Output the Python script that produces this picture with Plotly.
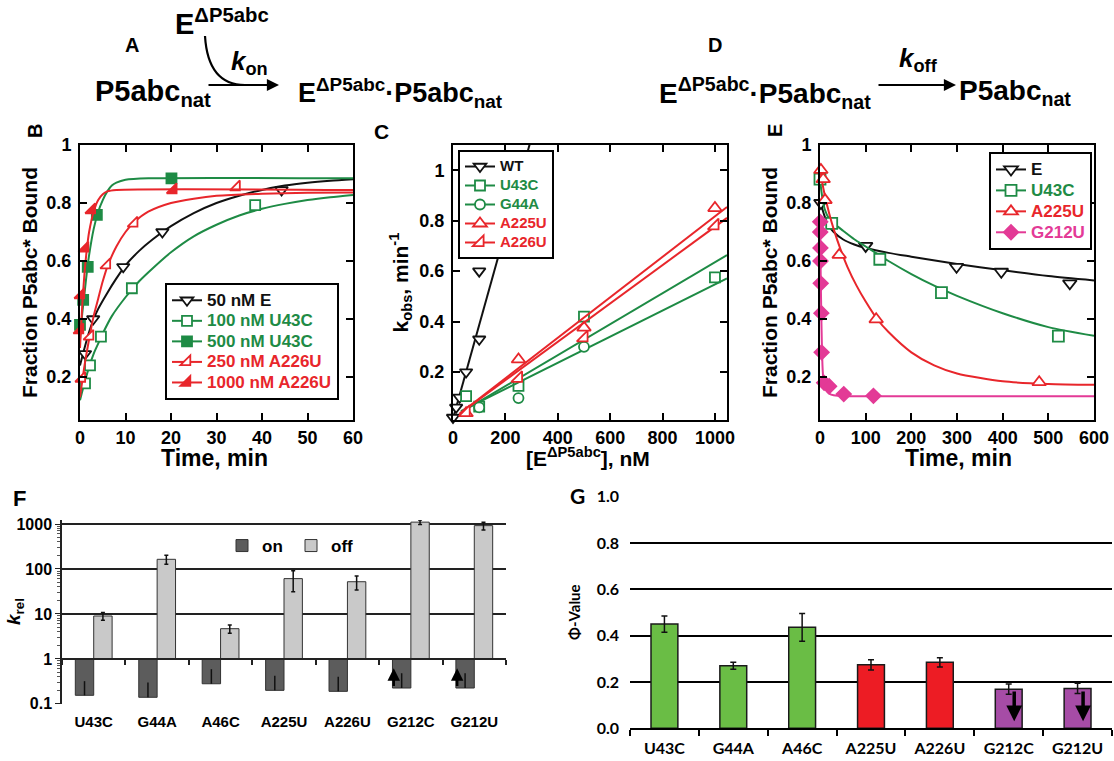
import math
import plotly.graph_objects as go

W, H = 1114, 761
def px(x): return x / W
def py(y): return 1 - y / H

BLACK = '#111111'
GREEN = '#1e8b45'
RED = '#e8262b'
PINK = '#e33a96'
FONT = 'Liberation Sans, Arial, sans-serif'
GFONT = 'Lato, Liberation Sans, sans-serif'

# ---------------- Panel B data ----------------
b_E_t = [1.1, 2.9, 9.5, 18.1, 44.3]
b_E_v = [0.28, 0.40, 0.58, 0.70, 0.845]
b_E_fit_t = [0, 1, 2, 3, 4, 6, 8, 10, 13, 16, 20, 25, 30, 35, 40, 45, 50, 55, 60]
b_E_fit_v = [0.24, 0.30, 0.355, 0.40, 0.435, 0.49, 0.54, 0.585, 0.635, 0.675, 0.72, 0.765, 0.80, 0.825, 0.845, 0.86, 0.87, 0.877, 0.882]

b_U100_t = [1.1, 2.2, 4.6, 11.4, 38.5]
b_U100_v = [0.178, 0.24, 0.339, 0.506, 0.793]
b_U100_fit_t = [0, 1, 2, 3, 4, 5, 7, 10, 13, 16, 20, 25, 30, 35, 40, 45, 50, 55, 60]
b_U100_fit_v = [0.12, 0.18, 0.235, 0.28, 0.315, 0.35, 0.41, 0.475, 0.53, 0.575, 0.63, 0.685, 0.725, 0.757, 0.78, 0.797, 0.81, 0.82, 0.828]

b_U500_t = [0.0, 0.7, 1.7, 3.7, 20.1]
b_U500_v = [0.38, 0.466, 0.58, 0.759, 0.885]
b_U500_fit_t = [0, 0.5, 1, 1.5, 2, 3, 4, 5, 6, 7, 8, 10, 15, 60]
b_U500_fit_v = [0.33, 0.42, 0.49, 0.56, 0.62, 0.71, 0.77, 0.81, 0.84, 0.86, 0.87, 0.88, 0.885, 0.885]

b_A250_t = [0.4, 2.2, 5.9, 11.9, 34.4]
b_A250_v = [0.195, 0.34, 0.586, 0.73, 0.855]
b_A250_fit_t = [0, 1, 2, 3, 4, 5, 6, 8, 10, 12, 15, 20, 25, 30, 40, 50, 60]
b_A250_fit_v = [0.13, 0.24, 0.33, 0.41, 0.47, 0.53, 0.58, 0.65, 0.70, 0.735, 0.77, 0.80, 0.815, 0.825, 0.832, 0.835, 0.836]

b_A1000_t = [0.0, 0.2, 1.1, 2.6, 20.5]
b_A1000_v = [0.362, 0.483, 0.644, 0.776, 0.845]
b_A1000_fit_t = [0, 0.5, 1, 1.5, 2, 3, 4, 5, 6, 8, 60]
b_A1000_fit_v = [0.30, 0.45, 0.56, 0.64, 0.70, 0.77, 0.81, 0.83, 0.84, 0.845, 0.845]

# ---------------- Panel C data ----------------
c_WT_x = [0, 12, 25, 50, 100, 100]
c_WT_y = [0.02, 0.06, 0.10, 0.20, 0.33, 0.60]
c_WT_fit_x = [0, 300]
c_WT_fit_y = [0.015, 1.13]
c_U43C_x = [50, 100, 250, 500, 1000]
c_U43C_y = [0.105, 0.063, 0.145, 0.42, 0.575]
c_U43C_fit_x = [30, 1046]
c_U43C_fit_y = [0.04, 0.664]
c_G44A_x = [100, 250, 500]
c_G44A_y = [0.06, 0.097, 0.30]
c_G44A_fit_x = [30, 1046]
c_G44A_fit_y = [0.045, 0.571]
c_A225U_x = [50, 250, 500, 1000]
c_A225U_y = [0.037, 0.25, 0.376, 0.85]
c_A225U_fit_x = [25, 1046]
c_A225U_fit_y = [0.035, 0.854]
c_A226U_x = [50, 250, 500, 1000]
c_A226U_y = [0.04, 0.175, 0.336, 0.78]
c_A226U_fit_x = [25, 1046]
c_A226U_fit_y = [0.035, 0.811]

# ---------------- Panel E data ----------------
e_E_t = [2, 100, 299, 397, 547]
e_E_v = [0.80, 0.652, 0.58, 0.563, 0.523]
e_E_fit_t = [0, 5, 10, 20, 30, 50, 75, 100, 150, 200, 300, 400, 500, 600]
e_E_fit_v = [0.81, 0.78, 0.755, 0.72, 0.70, 0.675, 0.657, 0.645, 0.628, 0.615, 0.59, 0.568, 0.548, 0.533]
e_U43C_t = [0, 25.6, 131, 266, 522]
e_U43C_v = [0.882, 0.73, 0.606, 0.491, 0.341]
e_U43C_fit_t = [0, 5, 10, 20, 30, 50, 75, 100, 150, 200, 250, 300, 400, 500, 600]
e_U43C_fit_v = [0.88, 0.82, 0.78, 0.745, 0.73, 0.705, 0.675, 0.65, 0.60, 0.555, 0.515, 0.48, 0.42, 0.372, 0.342]
e_A225U_t = [2, 7, 11, 42, 123, 480]
e_A225U_v = [0.914, 0.882, 0.81, 0.621, 0.399, 0.182]
e_A225U_fit_t = [0, 5, 10, 20, 30, 45, 60, 80, 100, 125, 150, 200, 250, 300, 400, 500, 600]
e_A225U_fit_v = [0.92, 0.87, 0.83, 0.765, 0.71, 0.64, 0.58, 0.515, 0.46, 0.40, 0.355, 0.285, 0.24, 0.212, 0.185, 0.176, 0.173]
e_G212U_t = [0.5, 0.5, 1, 1, 1.5, 3, 3.5, 9, 20, 52, 117]
e_G212U_v = [0.735, 0.70, 0.645, 0.60, 0.523, 0.42, 0.285, 0.18, 0.168, 0.141, 0.135]
e_G212U_fit_t = [0, 1, 2, 3, 4, 5, 6, 8, 10, 15, 20, 30, 40, 60, 600]
e_G212U_fit_v = [0.74, 0.62, 0.50, 0.40, 0.32, 0.26, 0.22, 0.18, 0.165, 0.15, 0.143, 0.137, 0.135, 0.134, 0.134]

# ---------------- Panels F, G data ----------------
mutants = ["U43C", "G44A", "A46C", "A225U", "A226U", "G212C", "G212U"]
kon_rel = [0.155, 0.14, 0.28, 0.20, 0.19, 0.225, 0.225]
kon_err = [0.165, 0.16, 0.31, 0.22, 0.21, 0.255, 0.255]
koff_rel = [9.0, 164, 4.7, 61, 52, 1100, 920]
koff_err = [1.8, 37, 1.0, 30, 18, 130, 180]
phi = [0.45, 0.27, 0.436, 0.274, 0.285, 0.169, 0.172]
phi_err = [0.035, 0.015, 0.06, 0.022, 0.02, 0.022, 0.022]
phi_colors = ['#6abd45', '#6abd45', '#6abd45', '#ed1c24', '#ed1c24', '#a64ca6', '#a64ca6']

fig = go.Figure()

def mk(symbol, line_color, fill, size=11):
    return dict(symbol=symbol, size=size, color=fill, line=dict(color=line_color, width=1.8))

def add_series(xs, ys, fx, fy, col, marker, xa, ya, name, legend, fs):
    fig.add_trace(go.Scatter(x=fx, y=fy, mode='lines', line=dict(color=col, width=2, shape='spline', smoothing=0.7),
                             xaxis=xa, yaxis=ya, showlegend=False, hoverinfo='skip'))
    fig.add_trace(go.Scatter(x=xs, y=ys, mode='markers', marker=marker, xaxis=xa, yaxis=ya,
                             showlegend=False, cliponaxis=False))
    fig.add_trace(go.Scatter(x=[None], y=[None], mode='lines+markers', marker=marker,
                             line=dict(color=col, width=2), xaxis=xa, yaxis=ya,
                             name='<span style="color:%s;font-size:%dpx">%s</span>' % (col, fs, name),
                             legend=legend))

# B
add_series(b_E_t, b_E_v, b_E_fit_t, b_E_fit_v, BLACK, mk('triangle-down', BLACK, 'white'), 'x', 'y', '50 nM E', 'legend', 17)
add_series(b_U100_t, b_U100_v, b_U100_fit_t, b_U100_fit_v, GREEN, mk('square', GREEN, 'white', 10), 'x', 'y', '100 nM U43C', 'legend', 17)
add_series(b_U500_t, b_U500_v, b_U500_fit_t, b_U500_fit_v, GREEN, mk('square', GREEN, GREEN, 10), 'x', 'y', '500 nM U43C', 'legend', 17)
add_series(b_A250_t, b_A250_v, b_A250_fit_t, b_A250_fit_v, RED, mk('triangle-se', RED, 'white'), 'x', 'y', '250 nM A226U', 'legend', 17)
add_series(b_A1000_t, b_A1000_v, b_A1000_fit_t, b_A1000_fit_v, RED, mk('triangle-se', RED, RED), 'x', 'y', '1000 nM A226U', 'legend', 17)

# C
add_series(c_WT_x, c_WT_y, c_WT_fit_x, c_WT_fit_y, BLACK, mk('triangle-down', BLACK, 'white'), 'x2', 'y2', 'WT', 'legend2', 15)
add_series(c_U43C_x, c_U43C_y, c_U43C_fit_x, c_U43C_fit_y, GREEN, mk('square', GREEN, 'white', 10), 'x2', 'y2', 'U43C', 'legend2', 15)
add_series(c_G44A_x, c_G44A_y, c_G44A_fit_x, c_G44A_fit_y, GREEN, mk('circle', GREEN, 'white', 10), 'x2', 'y2', 'G44A', 'legend2', 15)
add_series(c_A225U_x, c_A225U_y, c_A225U_fit_x, c_A225U_fit_y, RED, mk('triangle-up', RED, 'white', 12), 'x2', 'y2', 'A225U', 'legend2', 15)
add_series(c_A226U_x, c_A226U_y, c_A226U_fit_x, c_A226U_fit_y, RED, mk('triangle-se', RED, 'white', 12), 'x2', 'y2', 'A226U', 'legend2', 15)

# E
add_series(e_E_t, e_E_v, e_E_fit_t, e_E_fit_v, BLACK, mk('triangle-down', BLACK, 'white', 12), 'x3', 'y3', 'E', 'legend3', 17)
add_series(e_U43C_t, e_U43C_v, e_U43C_fit_t, e_U43C_fit_v, GREEN, mk('square', GREEN, 'white', 11), 'x3', 'y3', 'U43C', 'legend3', 17)
add_series(e_A225U_t, e_A225U_v, e_A225U_fit_t, e_A225U_fit_v, RED, mk('triangle-up', RED, 'white', 12), 'x3', 'y3', 'A225U', 'legend3', 17)
add_series(e_G212U_t, e_G212U_v, e_G212U_fit_t, e_G212U_fit_v, PINK, mk('diamond', PINK, PINK, 11), 'x3', 'y3', 'G212U', 'legend3', 17)

# F
fig.add_trace(go.Bar(x=mutants, y=[v - 1 for v in kon_rel], base=1, width=0.29, offset=-0.29,
                     marker=dict(color='#5c5c5c', line=dict(color='#333', width=1)),
                     error_y=dict(type='data', symmetric=False, array=kon_err, arrayminus=[0] * len(kon_err),
                                  color='#111', thickness=1.5, width=0),
                     xaxis='x4', yaxis='y4', name='on', legend='legend4'))
fig.add_trace(go.Bar(x=mutants, y=[v - 1 for v in koff_rel], base=1, width=0.29, offset=0,
                     marker=dict(color='#c9c9c9', line=dict(color='#333', width=1)),
                     error_y=dict(type='data', array=koff_err, color='#111', thickness=1.5, width=2),
                     xaxis='x4', yaxis='y4', name='off', legend='legend4'))
fig.add_trace(go.Scatter(x=mutants, y=[1] * len(mutants), mode='markers', marker=dict(opacity=0),
                         xaxis='x6', yaxis='y4', showlegend=False, hoverinfo='skip'))

# G
fig.add_trace(go.Bar(x=mutants, y=phi, width=0.39,
                     marker=dict(color=phi_colors, line=dict(color='#1a1a1a', width=1.5)),
                     error_y=dict(type='data', array=phi_err, color='#111', thickness=1.5, width=3),
                     xaxis='x5', yaxis='y5', showlegend=False))

tick_font = dict(family=FONT, size=18, weight='bold', color='black')
title_font = dict(family=FONT, size=21, weight='bold', color='black')
frame = dict(showline=True, linecolor='black', linewidth=2, mirror='ticks', ticks='inside', ticklen=7,
             tickwidth=1.5, tickcolor='black', showgrid=False, zeroline=False, tickfont=tick_font,
             automargin=False)
vt = [0.2, 0.4, 0.6, 0.8, 1.0]
vtt = ['0.2', '0.4', '0.6', '0.8', '1']

# F axis geometry
F_top, F_bot = 520, 704
F_range = [-1.003, -1 + (F_bot - F_top) / 45.0]
F_dom = [py(F_bot), py(F_top)]
F_pos1 = F_dom[0] + (0 - F_range[0]) / (F_range[1] - F_range[0]) * (F_dom[1] - F_dom[0])
F_minor = [k * 10.0 ** e for e in range(-1, 3) for k in range(2, 10)]

fig.update_layout(
    width=W, height=H, margin=dict(l=0, r=0, t=0, b=0),
    paper_bgcolor='white', plot_bgcolor='white', barmode='overlay',
    font=dict(family=FONT, color='black'),
    xaxis=dict(frame, domain=[px(80), px(353)], range=[0, 60], dtick=10, anchor='y'),
    yaxis=dict(frame, domain=[py(420), py(145)], range=[1 - 275 / 290, 1], tickvals=vt, ticktext=vtt, anchor='x',
               ticklabelstandoff=3, title=dict(text='Fraction P5abc* Bound', font=title_font, standoff=3)),
    xaxis2=dict(frame, domain=[px(453), px(727)], range=[0, 1046], dtick=200, anchor='y2'),
    yaxis2=dict(frame, domain=[py(420), py(145)], range=[0.01, 1.1], tickvals=vt, ticktext=vtt, anchor='x2',
                ticklabelstandoff=3,
                title=dict(text='k<sub>obs</sub>, min<sup>-1</sup>', font=title_font, standoff=5)),
    xaxis3=dict(frame, domain=[px(820), px(1094)], range=[0, 600], dtick=100, anchor='y3'),
    yaxis3=dict(frame, domain=[py(420), py(145)], range=[1 - 275 / 290, 1], tickvals=vt, ticktext=vtt, anchor='x3',
                ticklabelstandoff=3, title=dict(text='Fraction P5abc* Bound', font=title_font, standoff=3)),
    xaxis4=dict(domain=[px(62), px(506)], type='category', range=[-0.5, 6.5], anchor='y4', showline=False,
                ticks='', showgrid=False, ticklabelstandoff=7, automargin=False,
                tickfont=dict(family=FONT, size=15, weight='bold', color='black')),
    xaxis6=dict(type='category', range=[-0.5, 6.5], overlaying='x4', anchor='free', position=F_pos1,
                showline=True, linecolor='#222', linewidth=1.5, ticks='outside', tickson='boundaries',
                ticklen=5, tickcolor='#222', tickwidth=1.5, showticklabels=False, showgrid=False, automargin=False),
    yaxis4=dict(domain=F_dom, type='log', range=F_range, anchor='x4', showline=True, linecolor='#222',
                linewidth=1.5, ticks='outside', ticklen=5, tickcolor='#222', tickwidth=1.2,
                tickvals=[0.1, 1, 10, 100, 1000], ticktext=['0.1', '1', '10', '100', '1000'],
                showgrid=True, gridcolor='#222', gridwidth=1.5, zeroline=False, automargin=False,
                minor=dict(tickmode='array', tickvals=F_minor, ticks='outside', ticklen=3, tickcolor='#555',
                           tickwidth=1, showgrid=False),
                tickfont=dict(family=FONT, size=16, weight='bold', color='black')),
    xaxis5=dict(domain=[px(630), px(1112)], type='category', range=[-0.5, 6.5], anchor='y5', showline=True,
                linecolor='black', linewidth=2, ticks='outside', tickson='boundaries', ticklen=6,
                tickcolor='black', tickwidth=1.5, showgrid=False, automargin=False, ticklabelstandoff=4,
                tickfont=dict(family=GFONT, size=16, weight='bold', color='black')),
    yaxis5=dict(domain=[py(728.3), py(496)], range=[0, 1.003], dtick=0.2, tickformat='.1f', anchor='x5',
                showline=False, ticks='', showgrid=True, gridcolor='black', gridwidth=2, zeroline=False,
                automargin=False, ticklabelstandoff=10,
                tickfont=dict(family=GFONT, size=16, weight='bold', color='black'),
                title=dict(text='Φ-Value', font=dict(family=GFONT, size=15, weight='bold'), standoff=12)),
    legend=dict(x=px(165), y=py(283), xanchor='left', yanchor='top', bgcolor='white', bordercolor='black',
                borderwidth=2, font=dict(family=FONT, size=13.5, weight='bold'), tracegroupgap=0),
    legend2=dict(x=px(458), y=py(150), xanchor='left', yanchor='top', bgcolor='white', bordercolor='black',
                 borderwidth=2, font=dict(family=FONT, size=11.3, weight='bold'), tracegroupgap=0),
    legend3=dict(x=px(989), y=py(152), xanchor='left', yanchor='top', bgcolor='white', bordercolor='black',
                 borderwidth=2, font=dict(family=FONT, size=13.8, weight='bold'), tracegroupgap=0),
    legend4=dict(x=px(222), y=py(546), xanchor='left', yanchor='middle', bgcolor='rgba(0,0,0,0)',
                 borderwidth=0, orientation='h', entrywidth=24, entrywidthmode='pixels',
                 font=dict(family=FONT, size=17, weight='bold')),
)

ann = []
def label(text, x, y, size=22, angle=0, xanchor='center', yanchor='middle', family=FONT):
    ann.append(dict(text=text, x=px(x), y=py(y), xref='paper', yref='paper', showarrow=False,
                    xanchor=xanchor, yanchor=yanchor, textangle=angle,
                    font=dict(family=family, size=size, weight='bold', color='black')))

# panel letters
label('A', 132, 45, 20)
label('D', 715, 45, 20)
label('B', 35, 131, 20, angle=-90)
label('C', 382, 131, 21)
label('E', 775, 131, 20, angle=-90)
label('F', 19, 498, 22)
label('G', 578, 496, 21, family=GFONT)
# axis titles placed below the x axes / beside the F axis
label('Time, min', 214, 458, 23)
label('[E<sup>ΔP5abc</sup>], nM', 588, 457, 21)
label('Time, min', 958, 458, 23)
label('<i>k</i><sub>rel</sub>', 15, 612, 19, angle=-90)

# reaction schemes
label('E<sup>ΔP5abc</sup>', 173, 22, 29, xanchor='left')
label('<i>k</i><sub>on</sub>', 229, 62, 26, xanchor='left')
label('P5abc<sub>nat</sub>', 93, 93, 29, xanchor='left')
label('E<sup>ΔP5abc</sup>·P5abc<sub>nat</sub>', 296, 93, 27, xanchor='left')
label('E<sup>ΔP5abc</sup>·P5abc<sub>nat</sub>', 657, 93, 28, xanchor='left')
label('<i>k</i><sub>off</sub>', 897, 60, 26, xanchor='left')
label('P5abc<sub>nat</sub>', 957, 93, 28, xanchor='left')

# horizontal reaction arrows
for x0, x1 in [(207, 279), (877, 956)]:
    ann.append(dict(x=px(x1), y=py(85), ax=-(x1 - x0), ay=0, xref='paper', yref='paper', axref='pixel',
                    ayref='pixel', text='', showarrow=True, arrowhead=2, arrowsize=1.1, arrowwidth=2.2,
                    arrowcolor='black'))

# F up arrows on G212C / G212U "on" bars
for i in [5, 6]:
    xa = i - 0.27
    ann.append(dict(x=xa, y=math.log10(0.62), ax=xa, ay=math.log10(0.23), xref='x4', yref='y4', axref='x4',
                    ayref='y4', text='', showarrow=True, arrowhead=2, arrowsize=1.0, arrowwidth=2.5,
                    arrowcolor='black'))
# G down arrows
for i in [5, 6]:
    xa = i + 0.08
    ann.append(dict(x=xa, y=0.03, ax=xa, ay=0.165, xref='x5', yref='y5', axref='x5', ayref='y5', text='',
                    showarrow=True, arrowhead=2, arrowsize=0.9, arrowwidth=3.5, arrowcolor='black'))

fig.update_layout(annotations=ann)

# curved arrow from E into the kon arrow
fig.add_shape(type='path', xref='paper', yref='paper',
              path='M %f,%f Q %f,%f %f,%f' % (px(205), py(36), px(208), py(85), px(245), py(85)),
              line=dict(color='black', width=2.2))

fig.write_html('out.html')
